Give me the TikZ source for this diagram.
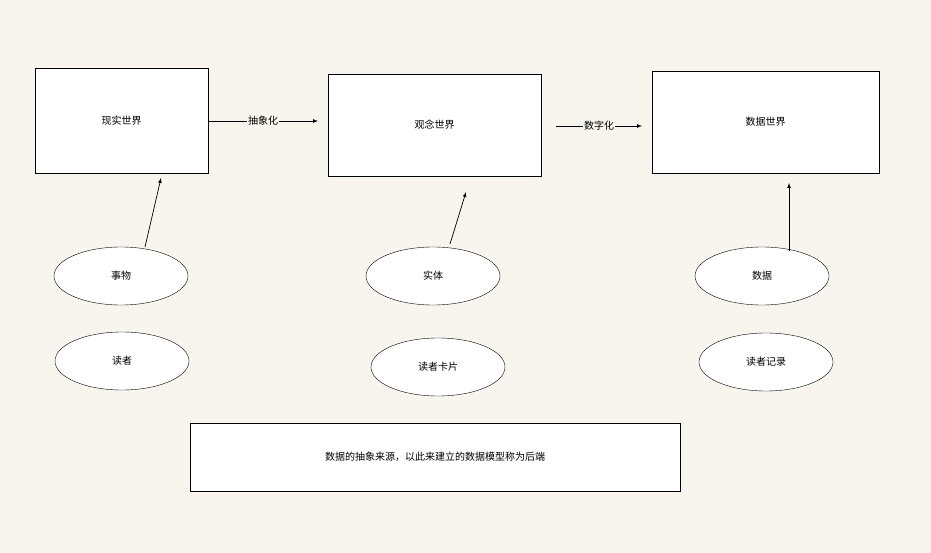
\documentclass[tikz,border=0pt]{standalone}
\usepackage{fontspec}
\setmainfont{Noto Sans CJK SC}
\usetikzlibrary{shapes.geometric}
\definecolor{bg}{HTML}{F8F5EE}
\begin{document}
\begin{tikzpicture}[x=1pt,y=-1pt,
  box/.style={draw,fill=white,inner sep=0pt,font=\fontsize{10}{12}\selectfont},
  ell/.style={draw,fill=white,ellipse,minimum width=134pt,minimum height=58pt,inner sep=0pt,font=\fontsize{10}{12}\selectfont},
  lab/.style={fill=bg,inner sep=1pt,font=\fontsize{10}{12}\selectfont},
  arr/.style={-latex,line width=0.7pt}]
\fill[bg] (0,0) rectangle (931,553);
\useasboundingbox (0,0) rectangle (931,553);
\node[box,minimum width=173pt,minimum height=105pt] (rw) at (121.5,120.5) {现实世界};
\node[box,minimum width=213pt,minimum height=102pt] (cw) at (434.5,125) {观念世界};
\node[box,minimum width=227pt,minimum height=102pt] (dw) at (765.5,122) {数据世界};
\node[box,minimum width=490pt,minimum height=68pt] (note) at (435,457) {数据的抽象来源，以此来建立的数据模型称为后端};
\node[ell] (e1) at (121,276) {事物};
\node[ell] (e2) at (122,361) {读者};
\node[ell] (e3) at (433,276) {实体};
\node[ell] (e4) at (438,367) {读者卡片};
\node[ell] (e5) at (762,276) {数据};
\node[ell] (e6) at (766,362) {读者记录};
\coordinate (a1e) at (318,121);
\coordinate (a2s) at (556,126);
\coordinate (a2e) at (642,126);
\draw[arr] (rw.east |- a1e) -- node[lab] {抽象化} (a1e);
\draw[arr] (a2s) -- node[lab] {数字化} (a2e);
\coordinate (u1s) at (145,247); \coordinate (u1e) at (161,178);
\coordinate (u2s) at (450,244); \coordinate (u2e) at (466,192);
\coordinate (u3s) at (789,251); \coordinate (u3e) at (789,183);
\draw[arr] (u1s) -- (u1e);
\draw[arr] (u2s) -- (u2e);
\draw[arr] (u3s) -- (u3e);
\end{tikzpicture}
\end{document}
